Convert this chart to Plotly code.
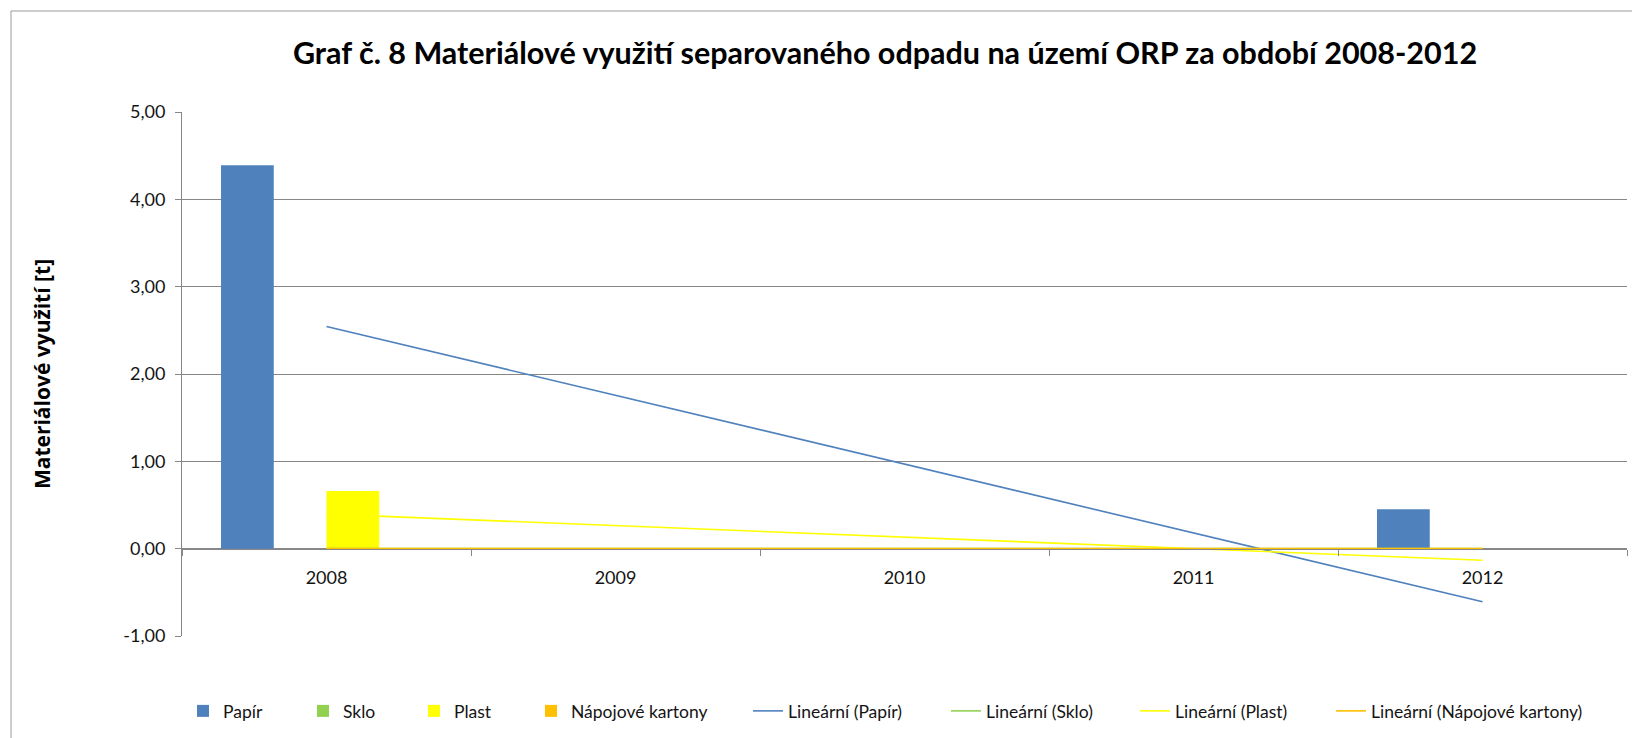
import numpy as np
import plotly.graph_objects as go

# --- data -------------------------------------------------------------
years = ["2008", "2009", "2010", "2011", "2012"]
papir = [4.39, 0.0, 0.0, 0.0, 0.45]
sklo = [0.0, 0.0, 0.0, 0.0, 0.0]
plast = [0.66, 0.0, 0.0, 0.0, 0.0]
napojove_kartony = [0.0, 0.0, 0.0, 0.0, 0.0]

series_names = ["Papír", "Sklo", "Plast", "Nápojové kartony"]
series_values = [papir, sklo, plast, napojove_kartony]
bar_colors = ["#4F81BD", "#92D050", "#FFFF00", "#FFC000"]
trend_colors = ["#4F81BD", "#92D050", "#FFFF00", "#FFC000"]

y_tick_values = [-1, 0, 1, 2, 3, 4, 5]
y_tick_labels = ["-1,00", "0,00", "1,00", "2,00", "3,00", "4,00", "5,00"]

title_text = "Graf č. 8 Materiálové využití separovaného odpadu na území ORP za období 2008-2012"
y_title = "Materiálové využití [t]"

# --- page geometry (px) -----------------------------------------------
W, H = 1632, 738
L, R, T, B = 182, 5, 112, 102
PW, PH = W - L - R, H - T - B

FONT = "Lato"
GRID = "#878787"
TEXT = "#141414"


def px_x(px):
    return (px - L) / PW


def px_y(py):
    return (H - B - py) / PH


fig = go.Figure()

# clustered columns
for i, (name, vals) in enumerate(zip(series_names, series_values)):
    fig.add_trace(go.Bar(
        x=years, y=vals, name=name,
        marker=dict(color=bar_colors[i], line=dict(width=0)),
        legend="legend" if i == 0 else f"legend{i + 1}",
    ))

# linear trend lines fitted to each series
idx = np.arange(1, len(years) + 1)
for i, (name, vals) in enumerate(zip(series_names, series_values)):
    slope, intercept = np.polyfit(idx, np.array(vals, dtype=float), 1)
    fit = slope * idx + intercept
    fig.add_trace(go.Scatter(
        x=years, y=fit, mode="lines", name=f"Lineární ({name})",
        line=dict(color=trend_colors[i], width=1.6),
        legend=f"legend{i + 5}",
    ))

# one legend box per entry, spaced like the original
text_starts = [225, 345, 456, 573, 790, 988, 1177, 1373]
legend_font = dict(family=FONT, size=17.5, color=TEXT)
legends = {}
for k, tx in enumerate(text_starts):
    key = "legend" if k == 0 else f"legend{k + 1}"
    legends[key] = dict(
        x=px_x(tx - 42), xanchor="left",
        y=px_y(711), yanchor="middle",
        orientation="h", bgcolor="rgba(0,0,0,0)",
        font=legend_font, borderwidth=0,
    )

fig.update_layout(
    width=W, height=H, autosize=False,
    margin=dict(l=L, r=R, t=T, b=B, pad=0),
    paper_bgcolor="white", plot_bgcolor="white",
    barmode="group", bargap=0.27, bargroupgap=0,
    showlegend=True,
    title=dict(
        text=title_text,
        x=885 / W, xref="container", xanchor="center",
        y=1 - 53 / H, yref="container", yanchor="middle",
        font=dict(family=FONT, size=30.5, color="black", weight="bold"),
    ),
    xaxis=dict(
        type="category", categoryorder="array", categoryarray=years,
        range=[-0.5, 4.5],
        anchor="free", position=1 / 6,
        showline=True, linecolor=GRID, linewidth=1,
        ticks="outside", tickson="boundaries", ticklen=6, tickcolor=GRID,
        showgrid=False, zeroline=False,
        tickfont=dict(family=FONT, size=18, color=TEXT),
        ticklabelstandoff=13,
    ),
    yaxis=dict(
        range=[-1, 5], tickmode="array",
        tickvals=y_tick_values, ticktext=y_tick_labels,
        showline=True, linecolor=GRID, linewidth=1,
        ticks="outside", ticklen=6, tickcolor=GRID,
        showgrid=True, gridcolor=GRID, gridwidth=1,
        zeroline=False,
        tickfont=dict(family=FONT, size=18, color=TEXT),
        ticklabelstandoff=6,
        title=dict(text=y_title, standoff=66,
                   font=dict(family="Open Sans", size=21, color="black", weight="bold")),
    ),
    shapes=[dict(
        type="rect", xref="paper", yref="paper",
        x0=px_x(11), x1=px_x(W + 20), y0=px_y(H + 20), y1=px_y(11),
        line=dict(color="#9a9a9a", width=1), fillcolor="rgba(0,0,0,0)",
        layer="below",
    )],
    **legends,
)

fig.write_html("out.html")
